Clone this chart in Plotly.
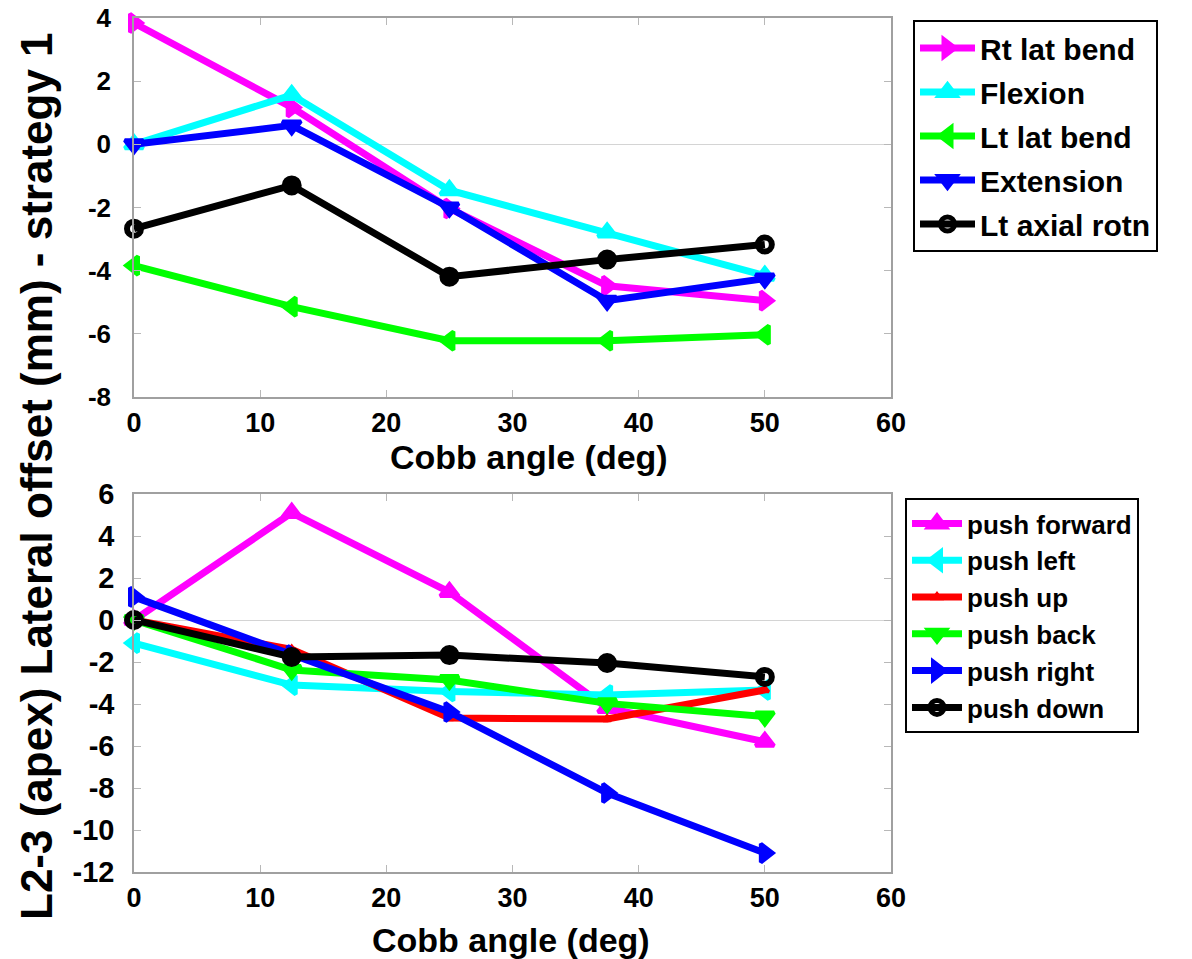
import plotly.graph_objects as go

# ---------------- data ----------------
cobb = [0, 12.5, 25, 37.5, 50]

top_names = ["Rt lat bend", "Flexion", "Lt lat bend", "Extension", "Lt axial rotn"]
rt_lat_bend = [3.84, 1.17, -2.03, -4.48, -4.95]
flexion = [0.0, 1.56, -1.45, -2.79, -4.16]
lt_lat_bend = [-3.84, -5.14, -6.22, -6.22, -6.03]
extension = [0.0, 0.60, -2.00, -4.95, -4.25]
lt_axial_rotn = [-2.67, -1.30, -4.19, -3.65, -3.17]

bot_names = ["push forward", "push left", "push up", "push back", "push right", "push down"]
push_forward = [0.0, 5.10, 1.33, -4.19, -5.80]
push_left = [-1.10, -3.10, -3.40, -3.57, -3.33]
push_up = [0.0, -1.40, -4.67, -4.71, -3.33]
push_back = [0.0, -2.38, -2.86, -3.97, -4.60]
push_right = [1.10, -1.67, -4.38, -8.24, -11.10]
push_down = [0.0, -1.76, -1.67, -2.05, -2.71]

x_ticks = [0, 10, 20, 30, 40, 50, 60]
top_y_ticks = [4, 2, 0, -2, -4, -6, -8]
bot_y_ticks = [6, 4, 2, 0, -2, -4, -6, -8, -10, -12]

# ---------------- styling ----------------
FONT = "Liberation Sans, Arial, Helvetica, sans-serif"
W, H = 1192, 959


def px_x(p):
    return p / W


def px_y(p):
    return 1 - p / H


fig = go.Figure()

n = len(cobb)
circle_syms = ["circle-open"] + ["circle"] * (n - 2) + ["circle-open"]

# (values, colour, symbol, marker size, marker outline width)
top_series = [
    (rt_lat_bend, "#ff00ff", "triangle-right", 16, 4),
    (flexion, "#00ffff", "triangle-up", 16, 4),
    (lt_lat_bend, "#00ff00", "triangle-left", 16, 4),
    (extension, "#0000ff", "triangle-down", 16, 4),
    (lt_axial_rotn, "#000000", circle_syms, 14, 6),
]
for name, (vals, col, sym, sz, lw) in zip(top_names, top_series):
    fig.add_trace(go.Scatter(
        x=cobb, y=vals, name=name, mode="lines+markers",
        line=dict(color=col, width=7),
        marker=dict(symbol=sym, size=sz, color=col, line=dict(color=col, width=lw)),
        cliponaxis=False, xaxis="x", yaxis="y", legend="legend", legendgroup=name,
    ))

bot_series = [
    (push_forward, "#ff00ff", "triangle-up", 16, 4),
    (push_left, "#00ffff", "triangle-left", 16, 4),
    (push_up, "#ff0000", "triangle-up", 7, 3),
    (push_back, "#00ff00", "triangle-down", 16, 4),
    (push_right, "#0000ff", "triangle-right", 16, 4),
    (push_down, "#000000", circle_syms, 14, 6),
]
for name, (vals, col, sym, sz, lw) in zip(bot_names, bot_series):
    fig.add_trace(go.Scatter(
        x=cobb, y=vals, name=name, mode="lines+markers",
        line=dict(color=col, width=7),
        marker=dict(symbol=sym, size=sz, color=col, line=dict(color=col, width=lw)),
        cliponaxis=False, xaxis="x2", yaxis="y2", legend="legend2", legendgroup=name,
    ))

axis_common = dict(
    showline=True, linecolor="#a0a0a0", linewidth=1.5, mirror="ticks",
    ticks="inside", ticklen=7, tickcolor="#b8b8b8", tickwidth=1,
    showgrid=False, automargin=False,
)


def labels(vals):
    return [str(v) for v in vals]


xdom = [px_x(134), px_x(891)]
fig.update_layout(
    template="none",
    width=W, height=H,
    margin=dict(l=0, r=0, t=0, b=0, pad=0),
    paper_bgcolor="white", plot_bgcolor="white",
    font=dict(family=FONT, color="black"),
    xaxis=dict(domain=xdom, range=[0, 60], tickvals=x_ticks, ticktext=labels(x_ticks), anchor="y",
               tickfont=dict(size=27, family=FONT, weight="bold"), ticklabelstandoff=1,
               zeroline=False, **axis_common),
    yaxis=dict(domain=[px_y(397), px_y(18)], range=[-8, 4], tickvals=top_y_ticks,
               ticktext=labels(top_y_ticks), anchor="x",
               tickfont=dict(size=26, family=FONT, weight="bold"), ticklabelstandoff=16,
               zeroline=True, zerolinecolor="#d4d4d4", zerolinewidth=1, **axis_common),
    xaxis2=dict(domain=xdom, range=[0, 60], tickvals=x_ticks, ticktext=labels(x_ticks), anchor="y2",
                tickfont=dict(size=27, family=FONT, weight="bold"), ticklabelstandoff=1,
                zeroline=False, **axis_common),
    yaxis2=dict(domain=[px_y(872), px_y(494)], range=[-12, 6], tickvals=bot_y_ticks,
                ticktext=labels(bot_y_ticks), anchor="x2",
                tickfont=dict(size=29, family=FONT, weight="bold"), ticklabelstandoff=12,
                zeroline=True, zerolinecolor="#d4d4d4", zerolinewidth=1, **axis_common),
    legend=dict(x=px_x(913), y=px_y(20), xanchor="left", yanchor="top",
                bgcolor="white", bordercolor="black", borderwidth=2,
                font=dict(size=30, family=FONT, weight="bold"),
                tracegroupgap=2, itemwidth=55),
    legend2=dict(x=px_x(905), y=px_y(498), xanchor="left", yanchor="top",
                 bgcolor="white", bordercolor="black", borderwidth=2,
                 font=dict(size=26, family=FONT, weight="bold"),
                 tracegroupgap=0, itemwidth=50),
    showlegend=True,
)

fig.add_annotation(text="Cobb angle (deg)", x=px_x(529), y=px_y(457), xref="paper", yref="paper",
                   showarrow=False, xanchor="center", yanchor="middle",
                   font=dict(size=34, family=FONT, weight="bold"))
fig.add_annotation(text="Cobb angle (deg)", x=px_x(511), y=px_y(940), xref="paper", yref="paper",
                   showarrow=False, xanchor="center", yanchor="middle",
                   font=dict(size=34, family=FONT, weight="bold"))
fig.add_annotation(text="L2-3 (apex) Lateral offset (mm) - strategy 1", x=px_x(36), y=px_y(476),
                   xref="paper", yref="paper", showarrow=False, textangle=-90,
                   xanchor="center", yanchor="middle",
                   font=dict(size=44, family=FONT, weight="bold"))

fig.write_html("out.html")
